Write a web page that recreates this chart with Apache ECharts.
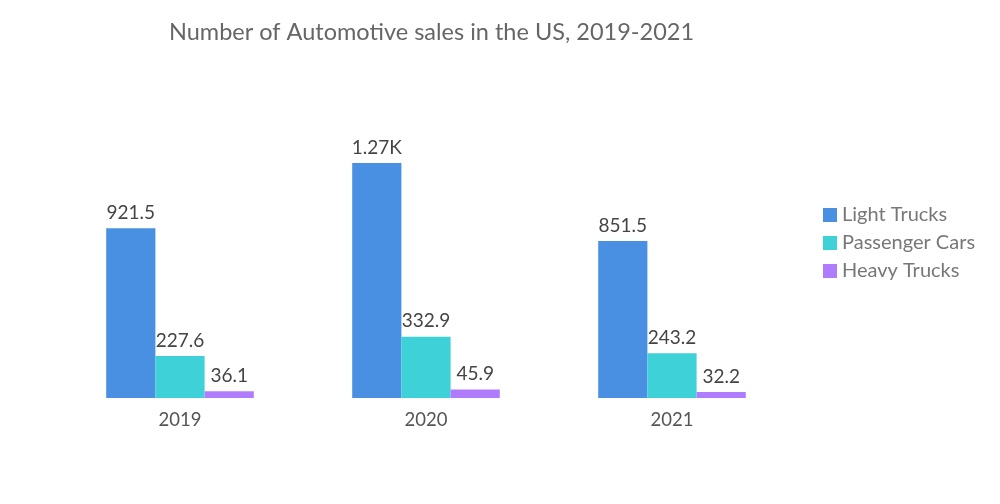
<!DOCTYPE html>
<html>
<head>
<meta charset="utf-8">
<script src="https://cdn.jsdelivr.net/npm/echarts@6/dist/echarts.min.js"></script>
<style>html,body{margin:0;padding:0;background:#fff}#c{width:1000px;height:504px}</style>
</head>
<body>
<div id="c"></div>
<script>
const categories = ['2019', '2020', '2021'];
const lightTrucks = [921.5, 1275, 851.5];
const passengerCars = [227.6, 332.9, 243.2];
const heavyTrucks = [36.1, 45.9, 32.2];

const chart = echarts.init(document.getElementById('c'));
const fmt = p => p.value >= 1000 ? (p.value / 1000).toFixed(2) + 'K' : String(p.value);
const labelStyle = { show: true, position: 'top', formatter: fmt, color: '#444', fontSize: 19, fontFamily: 'Lato', distance: 6 };
chart.setOption({
  animation: false,
  title: {
    text: 'Number of Automotive sales in the US, 2019-2021',
    left: 164, top: 15,
    textStyle: { color: '#666', fontSize: 23.5, fontWeight: 'normal', fontFamily: 'Lato' }
  },
  legend: {
    orient: 'vertical', left: 818, top: 200,
    itemWidth: 14, itemHeight: 14, itemGap: 8,
    icon: 'rect',
    textStyle: { color: '#777', fontSize: 20, fontFamily: 'Lato' },
    data: ['Light Trucks', 'Passenger Cars', 'Heavy Trucks']
  },
  grid: { left: 57, right: 205, top: 140, bottom: 106 },
  xAxis: {
    type: 'category', data: categories,
    axisLine: { show: false },
    axisTick: { show: false },
    axisLabel: { color: '#555', fontSize: 18.5, fontFamily: 'Lato', margin: 13 }
  },
  yAxis: { type: 'value', min: 0, max: 1400, show: false, splitLine: { show: false } },
  series: [
    { name: 'Light Trucks', type: 'bar', data: lightTrucks, itemStyle: { color: '#4a90e2' }, label: labelStyle, barGap: '0%', barCategoryGap: '40%' },
    { name: 'Passenger Cars', type: 'bar', data: passengerCars, itemStyle: { color: '#3fd1d8' }, label: labelStyle },
    { name: 'Heavy Trucks', type: 'bar', data: heavyTrucks, itemStyle: { color: '#b07cff' }, label: labelStyle }
  ]
});
</script>
</body>
</html>
